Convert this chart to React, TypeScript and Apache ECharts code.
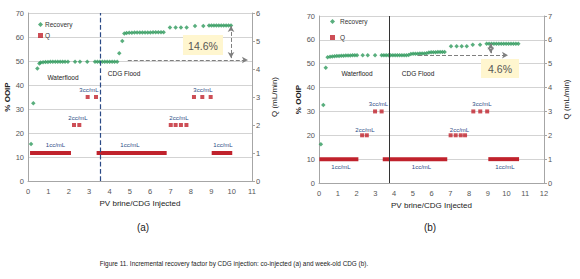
import React, { useEffect, useRef } from "react";
import * as echarts from "echarts";

// ---- Data: chart (a) co-injected ----
const recoveryA: number[][] = [
  [0.15, 15.4], [0.26, 32.4], [0.46, 46.9], [0.56, 49.0],
  [0.62, 49.4], [0.74, 49.5], [0.86, 49.6], [0.98, 49.6], [1.1, 49.7], [1.22, 49.7],
  [1.34, 49.7], [1.46, 49.7], [1.58, 49.7], [1.7, 49.7], [1.82, 49.7], [1.96, 49.7],
  [2.31, 49.7], [2.55, 49.7], [2.91, 49.7],
  [3.29, 49.7], [3.41, 49.7], [3.53, 49.7], [3.65, 49.7], [3.77, 49.7], [3.89, 49.7],
  [4.01, 49.7], [4.13, 49.7], [4.25, 49.7], [4.38, 49.7],
  [4.48, 53.2], [4.63, 58.3], [4.73, 61.5],
  [4.84, 61.7], [4.97, 61.8], [5.1, 61.8], [5.23, 61.9], [5.36, 61.9], [5.49, 61.9],
  [5.62, 61.9], [5.75, 61.9], [5.88, 61.9], [6.01, 61.9], [6.14, 62.0], [6.27, 62.0],
  [6.4, 62.0], [6.53, 62.0], [6.66, 62.0],
  [6.97, 64.0], [7.25, 64.0], [7.51, 64.0], [7.79, 64.0],
  [8.2, 64.6], [8.61, 64.6],
  [8.89, 64.8], [9.01, 64.8], [9.13, 64.8], [9.25, 64.8], [9.37, 64.8], [9.49, 64.8],
  [9.61, 64.8], [9.73, 64.8], [9.85, 64.8], [9.97, 64.8],
];
const qPointsA: number[][] = [
  [2.26, 2], [2.52, 2], [2.93, 3], [3.34, 3],
  [7.01, 2], [7.25, 2], [7.51, 2], [7.78, 2],
  [8.15, 3], [8.56, 3], [8.97, 3],
];
// Q = 1 cc/mL injection periods [start, end]
const qBarsA: number[][] = [[0.1, 2.11], [3.37, 6.81], [9.02, 10.03]];
const qBarLevelA = 1;
const cdgStartA = 3.54;

// ---- Data: chart (b) week-old CDG ----
const recoveryB: number[][] = [
  [0.1, 16.2], [0.23, 32.7], [0.36, 48.3], [0.46, 52.7],
  [0.59, 52.9], [0.71, 53.0], [0.83, 53.1], [0.95, 53.2], [1.07, 53.2], [1.19, 53.3],
  [1.31, 53.3], [1.43, 53.4], [1.55, 53.4], [1.67, 53.4], [1.79, 53.5], [1.91, 53.5], [2.03, 53.5],
  [2.33, 53.5], [2.6, 53.5], [2.99, 53.5],
  [3.34, 53.5], [3.46, 53.5], [3.58, 53.5], [3.7, 53.5], [3.82, 53.5], [3.94, 53.5],
  [4.06, 53.5], [4.18, 53.5], [4.3, 53.5], [4.42, 53.5], [4.54, 53.6], [4.66, 53.6], [4.78, 53.7],
  [4.9, 54.1], [5.02, 54.2], [5.14, 54.2], [5.26, 54.2], [5.38, 54.3], [5.5, 54.3], [5.62, 54.3], [5.74, 54.4],
  [5.86, 54.7], [5.98, 54.8], [6.1, 54.8], [6.22, 54.8], [6.34, 54.9], [6.46, 54.9], [6.58, 54.9], [6.7, 54.9],
  [7.04, 57.3], [7.34, 57.3], [7.61, 57.3], [7.88, 57.3],
  [8.2, 58.0], [8.59, 58.0],
  [8.94, 58.4], [9.07, 58.4], [9.2, 58.4], [9.33, 58.4], [9.46, 58.4], [9.59, 58.4], [9.72, 58.4],
  [9.85, 58.4], [9.98, 58.4], [10.11, 58.4], [10.24, 58.4], [10.37, 58.4], [10.5, 58.4], [10.63, 58.4],
];
const qPointsB: number[][] = [
  [2.3, 2], [2.55, 2], [2.99, 3], [3.34, 3],
  [7.02, 2], [7.29, 2], [7.56, 2], [7.79, 2],
  [8.23, 3], [8.6, 3], [8.97, 3],
];
const qBarsB: number[][] = [[0.02, 2.1], [3.4, 6.84], [9.03, 10.67]];
const qBarLevelB = 1;
const cdgStartB = 3.75;

// Axis ranges
const xMaxA = 11;
const xMaxB = 12;
const yLeftMax = 70;
const qMaxA = 6;
const qMaxB = 7;

// Annotation values
const incA = "14.6%";
const incB = "4.6%";
const baseA = 50.4;
const topA = 64.6;
const baseB = 53.6;
const topB = 58.5;

const GREEN = "#2f9a5c";
const RED = "#c0222c";
const NAVY = "#2b4a86";
const FONT = "'Liberation Sans', 'DejaVu Sans', sans-serif";

export default function App() {
  const ref = useRef<HTMLDivElement>(null);
  useEffect(() => {
    document.body.style.margin = "0";
    if (!ref.current) return;
    const chart = echarts.init(ref.current, undefined, { renderer: "svg" });

    const grids = [
      { left: 28, top: 13, width: 224, height: 168 },
      { left: 319, top: 16, width: 225, height: 167 },
    ];

    const xAxis = (gi: number, max: number) => ({
      type: "value",
      gridIndex: gi,
      min: 0,
      max,
      interval: 1,
      axisLine: { show: true, lineStyle: { color: "#a6a6a6" } },
      axisTick: { show: false },
      splitLine: { show: false },
      axisLabel: { color: "#555", fontSize: 7.5, margin: 6, fontFamily: FONT },
      name: "PV brine/CDG Injected",
      nameLocation: "middle",
      nameGap: 18,
      nameTextStyle: { color: "#222", fontSize: 8, fontFamily: FONT },
    });
    const yLeft = (gi: number, gap: number) => ({
      type: "value",
      gridIndex: gi,
      min: 0,
      max: yLeftMax,
      interval: 10,
      position: "left",
      axisLine: { show: true, lineStyle: { color: "#a6a6a6" } },
      axisTick: { show: false },
      splitLine: { show: true, lineStyle: { color: "#c8c8c8", width: 0.8 } },
      axisLabel: { color: "#555", fontSize: 7.5, margin: 4, fontFamily: FONT },
      name: "% OOIP",
      nameLocation: "middle",
      nameGap: gap,
      nameRotate: 90,
      nameTextStyle: { color: "#222", fontSize: 8, fontWeight: "bold", fontFamily: FONT },
    });
    const yRight = (gi: number, max: number, gap: number) => ({
      type: "value",
      gridIndex: gi,
      min: 0,
      max,
      interval: 1,
      position: "right",
      axisLine: { show: true, lineStyle: { color: "#a6a6a6" } },
      axisTick: { show: true, length: 3, lineStyle: { color: "#a6a6a6" } },
      splitLine: { show: false },
      axisLabel: { color: "#555", fontSize: 7.5, margin: 4, fontFamily: FONT },
      name: "Q (mL/min)",
      nameLocation: "middle",
      nameGap: gap,
      nameRotate: 90,
      nameTextStyle: { color: "#222", fontSize: 8, fontFamily: FONT },
    });

    const arrowLine = { color: "#7f7f7f", type: "dashed", width: 1 };
    const cdgLine = (cdg: number, style: any) => ({
      silent: true,
      symbol: ["none", "none"],
      label: { show: false },
      animation: false,
      lineStyle: style,
      data: [{ xAxis: cdg }],
    });
    const arrows = (base: number, top: number, xs: number, xe: number, xv: number) => ({
      silent: true,
      label: { show: false },
      animation: false,
      lineStyle: arrowLine,
      data: [
        [
          { coord: [xs, base], symbol: "none" },
          { coord: [xe, base], symbol: "arrow", symbolSize: [5, 6] },
        ],
        [
          { coord: [xv, top], symbol: "arrow", symbolSize: [5, 6] },
          { coord: [xv, base + 0.8], symbol: "arrow", symbolSize: [5, 6] },
        ],
      ],
    });

    const qBarSeries = (bars: number[][], level: number, xi: number, yi: number) =>
      bars.map(([s, e]) => ({
        name: "Q",
        type: "line",
        xAxisIndex: xi,
        yAxisIndex: yi,
        data: [[s, level], [e, level]],
        showSymbol: false,
        symbol: "none",
        lineStyle: { color: RED, width: 4, cap: "butt" },
        itemStyle: { color: RED },
        z: 3,
      }));

    const txt = (text: string, x: number, y: number, size: number, color: string, extra: any = {}) => ({
      type: "text",
      x,
      y,
      style: {
        text,
        fill: color,
        fontSize: size,
        fontFamily: FONT,
        align: "center",
        verticalAlign: "middle",
        textAlign: "center",
        textVerticalAlign: "middle",
        ...extra,
      },
      z: 10,
    });

    const option: any = {
      animation: false,
      textStyle: { fontFamily: FONT },
      grid: grids,
      legend: [
        {
          left: 33, top: 16, orient: "vertical", itemWidth: 5, itemHeight: 5, itemGap: 4,
          textStyle: { fontSize: 6.5, color: "#333", padding: [0, 0, 0, -3] },
          data: [{ name: "Recovery", icon: "diamond" }, { name: "Q", icon: "rect" }],
          selectedMode: false,
        },
        {
          left: 325, top: 13, orient: "vertical", itemWidth: 5, itemHeight: 5, itemGap: 9,
          textStyle: { fontSize: 6.5, color: "#333", padding: [0, 0, 0, 0] },
          data: [{ name: "Recovery", icon: "diamond" }, { name: "Q", icon: "rect" }],
          selectedMode: false,
        },
      ],
      xAxis: [xAxis(0, xMaxA), xAxis(1, xMaxB)],
      yAxis: [yLeft(0, 17), yRight(0, qMaxA, 18), yLeft(1, 17), yRight(1, qMaxB, 18)],
      series: [
        {
          name: "Recovery", type: "scatter", xAxisIndex: 0, yAxisIndex: 0,
          data: recoveryA, symbol: "diamond", symbolSize: 4.5, itemStyle: { color: GREEN }, z: 4,
          markLine: arrows(baseA, topA, 4.9, 10.8, 9.97),
        },
        {
          name: "Q", type: "scatter", xAxisIndex: 0, yAxisIndex: 1,
          data: qPointsA, symbol: "rect", symbolSize: 4, itemStyle: { color: RED }, z: 3,
          markLine: cdgLine(cdgStartA, { color: NAVY, type: "dashed", width: 1.2 }),
        },
        ...qBarSeries(qBarsA, qBarLevelA, 0, 1),
        {
          name: "Recovery", type: "scatter", xAxisIndex: 1, yAxisIndex: 2,
          data: recoveryB, symbol: "diamond", symbolSize: 4.5, itemStyle: { color: GREEN }, z: 4,
          markLine: arrows(baseB, topB, 5.28, 10.08, 9.16),
        },
        {
          name: "Q", type: "scatter", xAxisIndex: 1, yAxisIndex: 3,
          data: qPointsB, symbol: "rect", symbolSize: 4, itemStyle: { color: RED }, z: 3,
          markLine: cdgLine(cdgStartB, { color: "#333", type: "solid", width: 1 }),
        },
        ...qBarSeries(qBarsB, qBarLevelB, 1, 3),
      ],
      graphic: [
        // chart (a) annotations
        { type: "rect", shape: { x: 183, y: 35, width: 40, height: 20 }, style: { fill: "#fff6cf" }, z: 9 },
        txt(incA, 203, 45.5, 10.5, "#555"),
        txt("Waterflood", 63, 77, 6.5, "#222"),
        txt("CDG Flood", 124, 73, 6.5, "#222"),
        txt("3cc/mL", 89, 90, 6, NAVY),
        txt("3cc/mL", 203, 90, 6, NAVY),
        txt("2cc/mL", 78, 118, 6, NAVY),
        txt("2cc/mL", 179, 118, 6, NAVY),
        txt("1cc/mL", 55.5, 145, 6, NAVY),
        txt("1cc/mL", 130, 145, 6, NAVY),
        txt("1cc/mL", 223, 145, 6, NAVY),
        txt("(a)", 143, 227, 10, "#222"),
        // chart (b) annotations
        { type: "rect", shape: { x: 481, y: 59, width: 38, height: 19 }, style: { fill: "#fff6cf" }, z: 9 },
        txt(incB, 500, 68.5, 10.5, "#555"),
        txt("Waterflood", 357, 73, 6.5, "#222"),
        txt("CDG Flood", 418, 73, 6.5, "#222"),
        txt("3cc/mL", 378.5, 104, 6, NAVY),
        txt("3cc/mL", 482, 104, 6, NAVY),
        txt("2cc/mL", 365, 130, 6, NAVY),
        txt("2cc/mL", 459.5, 130, 6, NAVY),
        txt("1cc/mL", 341, 167, 6, NAVY),
        txt("1cc/mL", 421.5, 167, 6, NAVY),
        txt("1cc/mL", 505, 167, 6, NAVY),
        txt("(b)", 430, 227, 10, "#222"),
        txt("Figure 11. Incremental recovery factor by CDG injection: co-injected (a) and week-old CDG (b).", 234, 263.5, 6.4, "#222"),
      ],
    };
    chart.setOption(option);
    return () => chart.dispose();
  }, []);
  return <div ref={ref} style={{ width: 580, height: 279, background: "#fff" }} />;
}
